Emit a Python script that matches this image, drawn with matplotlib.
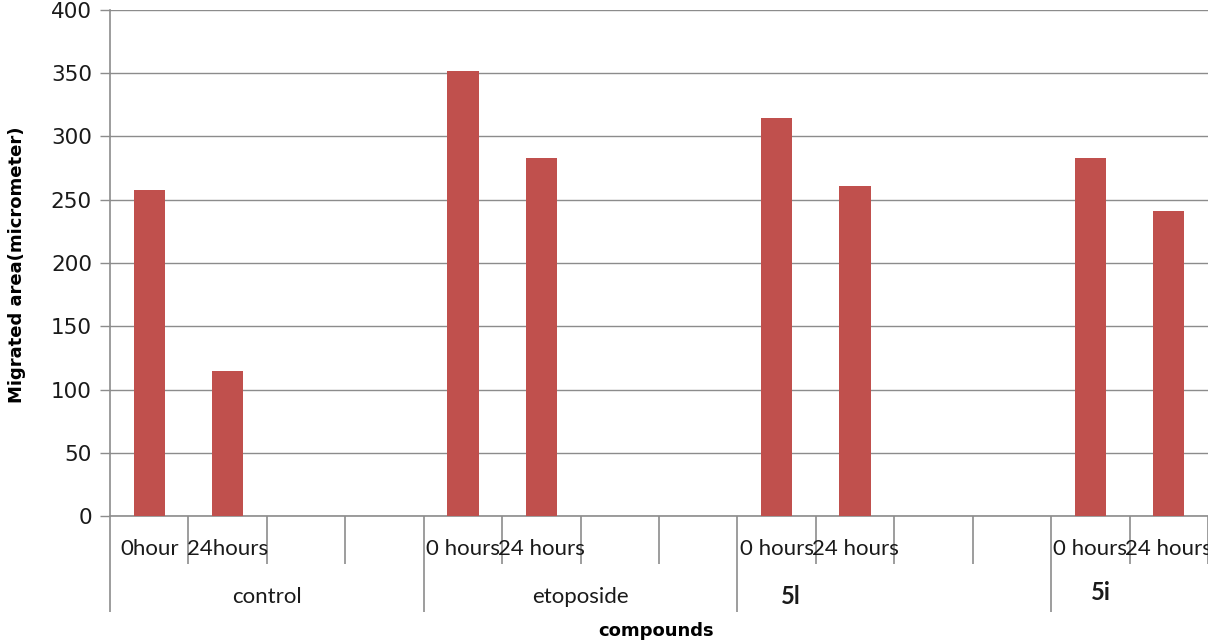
import matplotlib
matplotlib.use("Agg")
import matplotlib.pyplot as plt
import matplotlib.transforms as mtransforms

# Migrated area per compound, measured at 0 h and 24 h
compounds = ["control", "etoposide", "5l", "5i"]
time_labels = [["0hour", "24hours"],
               ["0 hours", "24 hours"],
               ["0 hours", "24 hours"],
               ["0 hours", "24 hours"]]
area_0h = [258, 352, 315, 283]
area_24h = [115, 283, 261, 241]

SLOTS_PER_GROUP = 4
VISIBLE_SLOTS = 14.0
BAR_COLOR = "#C0504D"
LINE_COLOR = "#8C8C8C"

W, H, DPI = 1208, 642, 100
fig = plt.figure(figsize=(W / DPI, H / DPI), dpi=DPI)
ax = fig.add_axes([110 / W, (H - 516) / H, (W - 110) / W, (516 - 10) / H])

# bars sit in the first two slots of each four-slot group
xs, ys = [], []
for g, (a, b) in enumerate(zip(area_0h, area_24h)):
    base = g * SLOTS_PER_GROUP
    xs += [base + 0.5, base + 1.5]
    ys += [a, b]
ax.bar(xs, ys, width=0.4, color=BAR_COLOR, zorder=3)

ax.set_yticks(range(0, 401, 50))
ax.yaxis.grid(True, color=LINE_COLOR, linewidth=1.0, zorder=0)

for side in ("top", "right"):
    ax.spines[side].set_visible(False)
for side in ("left", "bottom"):
    ax.spines[side].set_color(LINE_COLOR)
    ax.spines[side].set_linewidth(1.2)

ax.tick_params(axis="y", direction="out", length=7, color=LINE_COLOR,
               width=1.0, labelsize=15.5, pad=6, labelcolor="#1a1a1a")

# category ticks: short at slot boundaries, long at group boundaries
group_edges = [g * SLOTS_PER_GROUP for g in range(len(compounds))]
slot_edges = [i for i in range(int(VISIBLE_SLOTS) + 1) if i not in group_edges]
ax.set_xticks(group_edges)
ax.set_xticks(slot_edges, minor=True)
ax.tick_params(axis="x", which="major", direction="out", length=69,
               color=LINE_COLOR, width=1.2, labelbottom=False)
ax.tick_params(axis="x", which="minor", direction="out", length=34.5,
               color=LINE_COLOR, width=1.2, labelbottom=False)
ax.set_xlim(0, VISIBLE_SLOTS)
ax.set_ylim(0, 400)

trans = mtransforms.blended_transform_factory(ax.transData, ax.transAxes)
ax_h = 516 - 10
label_font = dict(family="Lato", fontsize=16, color="#1a1a1a")
for g, labels in enumerate(time_labels):
    base = g * SLOTS_PER_GROUP
    for k, lab in enumerate(labels):
        ax.text(base + k + 0.5, (516 - 549) / ax_h, lab, transform=trans,
                ha="center", va="center", clip_on=False, **label_font)

for g, name in enumerate(compounds[:2]):
    ax.text(g * SLOTS_PER_GROUP + SLOTS_PER_GROUP / 2, (516 - 597) / ax_h, name,
            transform=trans, ha="center", va="center", clip_on=False,
            **label_font)

# the two synthesized compounds are labelled in bold text boxes
fig.text(791 / W, 1 - 597 / H, compounds[2], ha="center", va="center",
         family="Lato", fontsize=17, fontweight="bold", color="#1a1a1a")
fig.text(1101 / W, 1 - 592 / H, compounds[3], ha="center", va="center",
         family="Lato", fontsize=17, fontweight="bold", color="#1a1a1a")

fig.text(656 / W, 1 - 631 / H, "compounds", ha="center", va="center",
         family="DejaVu Sans", fontsize=13, fontweight="bold")
fig.text(17 / W, 1 - 265 / H, "Migrated area(micrometer)", ha="center",
         va="center", rotation=90, family="DejaVu Sans", fontsize=13,
         fontweight="bold")

fig.savefig("out.png", dpi=DPI)
